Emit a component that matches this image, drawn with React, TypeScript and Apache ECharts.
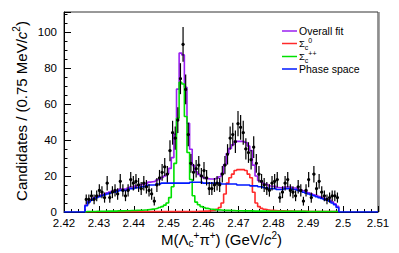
import React, { useEffect, useRef } from 'react';
import * as echarts from 'echarts';

// ---- binning ----
const binStart = 2.426;
const binWidth = 0.00075;
const xMin = 2.42;
const xMax = 2.51;
const xTickLabels = ['2.42', '2.43', '2.44', '2.45', '2.46', '2.47', '2.48', '2.49', '2.5', '2.51'];
const yTickLabels = ['0', '20', '40', '60', '80', '100'];

// ---- data (candidates per 0.75 MeV bin) ----
const counts = [
  7, 7, 9, 7, 9, 12, 11, 8, 16, 8,
  11, 12, 10, 17, 12, 9, 12, 18, 16, 17,
  15, 13, 16, 14, 12, 10, 6, 15, 19, 22,
  25, 21, 34, 44, 41, 51, 74, 93, 68, 43,
  27, 22, 24, 26, 20, 23, 19, 13, 13, 15,
  16, 15, 21, 26, 32, 41, 43, 39, 49, 47,
  44, 35, 33, 29, 36, 27, 21, 17, 15, 13,
  12, 16, 17, 18, 8, 11, 16, 18, 12, 11,
  9, 14, 12, 6, 12, 18, 8, 21, 13, 17,
  11, 9, 7, 8, 9, 9, 8,
];

const phaseSpace = [
  3.5, 5.5, 6.5, 7.5, 8, 8.5, 9, 9.5, 10, 10.5,
  11, 11, 11.5, 12, 12, 12, 12.5, 13, 13, 13.5,
  13.5, 14, 14, 14.5, 15, 15, 15, 15.5, 15.5, 16,
  16, 16, 16, 16, 16, 16, 16, 16, 16, 16,
  16.5, 16.5, 16.5, 16.5, 16.5, 16, 16, 16, 16, 16,
  16, 16, 15.5, 15.5, 15.5, 15.5, 15.5, 15.5, 15, 15,
  15, 15, 15, 14.5, 14.5, 14.5, 14, 14, 13.5, 13.5,
  13, 13, 13, 12.5, 12.5, 12.5, 13, 13, 13, 12.5,
  12.5, 12, 11.5, 11, 10.5, 10, 9.5, 9, 8.5, 8,
  7.5, 7, 6.5, 6, 5, 4, 2.5,
];

const sigmaCpp = [
  0.3, 0.3, 0.3, 0.3, 0.4, 0.4, 0.4, 0.4, 0.5, 0.5,
  0.5, 0.5, 0.6, 0.6, 0.6, 0.7, 0.7, 0.8, 0.8, 0.9,
  1, 1, 1.1, 1.2, 1.4, 1.6, 1.8, 2.1, 2.5, 3,
  3.8, 5, 8, 14, 27, 52, 72, 71, 53, 33,
  18, 9, 5.5, 4, 3, 2.5, 2, 1.7, 1.5, 1.3,
  1.2, 1.1, 1, 0.9, 0.9, 0.8, 0.8, 0.7, 0.7, 0.7,
  0.6, 0.6, 0.6, 0.6, 0.5, 0.5, 0.5, 0.5, 0.5, 0.5,
  0.4, 0.4, 0.4, 0.4, 0.4, 0.4, 0.4, 0.4, 0.4, 0.4,
  0.4, 0.4, 0.4, 0.4, 0.3, 0.3, 0.3, 0.3, 0.3, 0.3,
  0.3, 0.3, 0.3, 0.3, 0.3, 0.3, 0.3,
];

const sigmaC0 = [
  0.1, 0.1, 0.1, 0.1, 0.1, 0.1, 0.1, 0.1, 0.1, 0.1,
  0.1, 0.1, 0.1, 0.1, 0.1, 0.1, 0.1, 0.1, 0.1, 0.1,
  0.2, 0.2, 0.2, 0.2, 0.2, 0.2, 0.2, 0.2, 0.2, 0.2,
  0.2, 0.2, 0.2, 0.2, 0.2, 0.2, 0.2, 0.2, 0.2, 0.2,
  0.3, 0.3, 0.3, 0.4, 0.4, 0.5, 0.5, 0.6, 0.8, 1,
  1.5, 2.5, 5, 10, 16, 19, 21, 23, 23.5, 23.5,
  23.5, 23, 21, 19, 11, 5, 3, 2, 1.5, 1.2,
  1, 0.9, 0.8, 0.7, 0.6, 0.6, 0.5, 0.5, 0.5, 0.4,
  0.4, 0.4, 0.4, 0.4, 0.4, 0.3, 0.3, 0.3, 0.3, 0.3,
  0.3, 0.3, 0.3, 0.3, 0.3, 0.3, 0.3,
];

const overallFit = [
  3.9, 5.9, 6.9, 7.9, 8.5, 9, 9.5, 10, 10.6, 11.1,
  11.6, 11.6, 12.2, 12.7, 12.7, 12.8, 13.3, 13.9, 13.9, 14.5,
  14.7, 15.2, 15.3, 15.9, 16.6, 16.8, 17, 17.8, 18.2, 19.2,
  20, 21.2, 24.2, 30.2, 43.2, 68.2, 88.2, 87.2, 69.2, 49.2,
  34.8, 25.8, 22.3, 20.9, 19.9, 19, 18.5, 18.3, 18.3, 18.3,
  18.7, 19.6, 21.5, 26.4, 32.4, 35.3, 37.3, 39.2, 39.2, 39.2,
  39.1, 38.6, 36.6, 34.1, 26, 20, 17.5, 16.5, 15.5, 15.2,
  14.4, 14.3, 14.2, 13.6, 13.5, 13.5, 13.9, 13.9, 13.9, 13.3,
  13.3, 12.8, 12.3, 11.8, 11.2, 10.6, 10.1, 9.6, 9.1, 8.6,
  8.1, 7.6, 7.1, 6.6, 5.6, 4.6, 3.1,
];

// ---- styling ----
const FONT = "'Liberation Sans', Arial, Helvetica, sans-serif";
const C_FIT = '#9a1ff0';
const C_S0 = '#ff2a2a';
const C_SPP = '#00e000';
const C_PS = '#0018ff';

const edge = (k: number) => binStart + k * binWidth;
const center = (k: number) => binStart + (k + 0.5) * binWidth;

function stepData(vals: number[], extend: boolean) {
  const pts: number[][] = [];
  if (extend) pts.push([xMin, 0]);
  pts.push([edge(0), 0]);
  vals.forEach((v, k) => pts.push([edge(k), v]));
  pts.push([edge(vals.length), 0]);
  if (extend) pts.push([xMax, 0]);
  return pts;
}

let mctx: CanvasRenderingContext2D | null = null;
function tw(t: string, size: number, italic?: boolean) {
  if (!mctx) mctx = document.createElement('canvas').getContext('2d');
  if (!mctx) return t.length * size * 0.55;
  mctx.font = `${italic ? 'italic ' : ''}${size}px ${FONT}`;
  return mctx.measureText(t).width;
}

type Piece = { t: string; s: number; dy?: number; it?: boolean; gap?: number };
function layoutPieces(pieces: Piece[]) {
  let cur = 0;
  const items: any[] = [];
  for (const p of pieces) {
    const w = tw(p.t, p.s, p.it);
    const x = cur + (p.gap || 0);
    cur = x + w;
    items.push({ x, p });
  }
  return { items, width: cur };
}
function textGroup(pieces: Piece[], gx: number, gy: number, rotation: number, anchor: 'center' | 'left') {
  const { items, width } = layoutPieces(pieces);
  const off = anchor === 'center' ? -width / 2 : 0;
  return {
    type: 'group',
    x: gx,
    y: gy,
    rotation,
    silent: true,
    children: items.map(({ x, p }) => ({
      type: 'text',
      x: x + off,
      y: p.dy || 0,
      style: {
        text: p.t,
        fontSize: p.s,
        fontFamily: FONT,
        fontStyle: p.it ? 'italic' : 'normal',
        lineHeight: Math.round(p.s),
        fill: '#000',
        align: 'left',
        verticalAlign: 'middle',
        textAlign: 'left',
        textVerticalAlign: 'middle',
      },
    })),
  };
}

function buildOption() {
  const errData = counts.map((n, k) => [center(k), n, Math.sqrt(n)]);
  const legendRows = [
    { color: C_FIT, y: 31, pieces: [{ t: 'Overall fit', s: 10.5 }] as Piece[] },
    {
      color: C_S0,
      y: 43.5,
      pieces: [
        { t: 'Σ', s: 9.5 },
        { t: 'c', s: 7, dy: 3.5 },
        { t: '0', s: 7, dy: -3.5 },
      ] as Piece[],
    },
    {
      color: C_SPP,
      y: 56.5,
      pieces: [
        { t: 'Σ', s: 9.5 },
        { t: 'c', s: 7, dy: 3.5 },
        { t: '++', s: 7, dy: -3.5 },
      ] as Piece[],
    },
    { color: C_PS, y: 69, pieces: [{ t: 'Phase space', s: 10.5 }] as Piece[] },
  ];
  const graphic: any[] = [];
  legendRows.forEach((r) => {
    graphic.push({
      type: 'line',
      silent: true,
      shape: { x1: 282, y1: r.y, x2: 297, y2: r.y },
      style: { stroke: r.color, lineWidth: 1.5 },
    });
    graphic.push(textGroup(r.pieces, 299, r.y, 0, 'left'));
  });
  graphic.push(
    textGroup(
      [
        { t: 'M(', s: 15 },
        { t: 'Λ', s: 15 },
        { t: 'c', s: 10, dy: 4 },
        { t: '+', s: 10, dy: -4.5 },
        { t: 'π', s: 15 },
        { t: '+', s: 10, dy: -4.5 },
        { t: ') (GeV/', s: 15 },
        { t: 'c', s: 15, it: true },
        { t: '2', s: 10, dy: -4.5 },
        { t: ')', s: 15 },
      ],
      221.5,
      239.5,
      0,
      'center'
    )
  );
  graphic.push(
    textGroup(
      [
        { t: 'Candidates / (0.75 MeV/', s: 15 },
        { t: 'c', s: 15, it: true },
        { t: '2', s: 10, dy: -5 },
        { t: ')', s: 15 },
      ],
      21.5,
      111,
      Math.PI / 2,
      'center'
    )
  );
  graphic.push({
    type: 'line',
    silent: true,
    shape: { x1: 379, y1: 12, x2: 379, y2: 212 },
    style: { stroke: '#8a8a8a', lineWidth: 1.5 },
  });

  const lineSeries = (name: string, vals: number[], color: string, extend: boolean, z: number) => ({
    name,
    type: 'line',
    step: 'end',
    data: stepData(vals, extend),
    showSymbol: false,
    symbol: 'none',
    lineStyle: { color, width: 1.6 },
    itemStyle: { color },
    z,
    clip: true,
  });

  return {
    animation: false,
    grid: {
      left: 64,
      right: 21,
      top: 12,
      bottom: 41,
      show: true,
      borderColor: '#333',
      borderWidth: 1,
      containLabel: false,
    },
    xAxis: {
      type: 'value',
      min: xMin,
      max: xMax,
      interval: 0.01,
      axisLine: { show: true, onZero: false, lineStyle: { color: '#000', width: 1 } },
      axisTick: { show: true, inside: true, length: 6, lineStyle: { color: '#000' } },
      minorTick: { show: true, splitNumber: 5, length: 3, lineStyle: { color: '#000' } },
      splitLine: { show: false },
      axisLabel: {
        color: '#000',
        fontFamily: FONT,
        fontSize: 11.5,
        lineHeight: 11,
        margin: 5,
        showMinLabel: true,
        showMaxLabel: true,
        formatter: (v: number) => xTickLabels[Math.round((v - xMin) / 0.01)] ?? '',
      },
    },
    yAxis: {
      type: 'value',
      min: 0,
      max: 111,
      interval: 20,
      axisLine: { show: true, lineStyle: { color: '#000', width: 1 } },
      axisTick: { show: true, inside: true, length: 7, lineStyle: { color: '#000' } },
      minorTick: { show: true, splitNumber: 4, length: 3.5, lineStyle: { color: '#000' } },
      splitLine: { show: false },
      axisLabel: {
        color: '#000',
        fontFamily: FONT,
        fontSize: 11.5,
        lineHeight: 10,
        margin: 7,
        showMaxLabel: false,
        formatter: (v: number) => {
          const i = Math.round(v / 20);
          return Math.abs(v - i * 20) < 1e-6 ? yTickLabels[i] ?? '' : '';
        },
      },
    },
    series: [
      lineSeries('Overall fit', overallFit, C_FIT, false, 2),
      lineSeries('Σc0', sigmaC0, C_S0, false, 3),
      lineSeries('Σc++', sigmaCpp, C_SPP, false, 4),
      lineSeries('Phase space', phaseSpace, C_PS, true, 5),
      {
        name: 'Data',
        type: 'custom',
        z: 10,
        clip: false,
        data: errData,
        encode: { x: 0, y: 1 },
        renderItem: (_p: any, api: any) => {
          const x = api.value(0);
          const y = api.value(1);
          const e = api.value(2);
          const c = api.coord([x, y]);
          const hi = api.coord([x, y + e]);
          const lo = api.coord([x, Math.max(0, y - e)]);
          const l = api.coord([x - binWidth / 2, y]);
          const r = api.coord([x + binWidth / 2, y]);
          return {
            type: 'group',
            children: [
              { type: 'line', shape: { x1: c[0], y1: hi[1], x2: c[0], y2: lo[1] }, style: { stroke: '#000', lineWidth: 1.2 } },
              { type: 'line', shape: { x1: l[0], y1: c[1], x2: r[0], y2: c[1] }, style: { stroke: '#000', lineWidth: 1.2 } },
              { type: 'circle', shape: { cx: c[0], cy: c[1], r: 1.6 }, style: { fill: '#000' } },
            ],
          };
        },
      },
    ],
    graphic,
  };
}

export default function App() {
  const ref = useRef<HTMLDivElement>(null);
  useEffect(() => {
    if (!ref.current) return;
    const chart = echarts.init(ref.current, null, { renderer: 'svg' });
    chart.setOption(buildOption() as any);
    return () => chart.dispose();
  }, []);
  return (
    <div
      ref={ref}
      style={{ position: 'fixed', left: 0, top: 0, width: 399, height: 253, background: '#fff' }}
    />
  );
}
